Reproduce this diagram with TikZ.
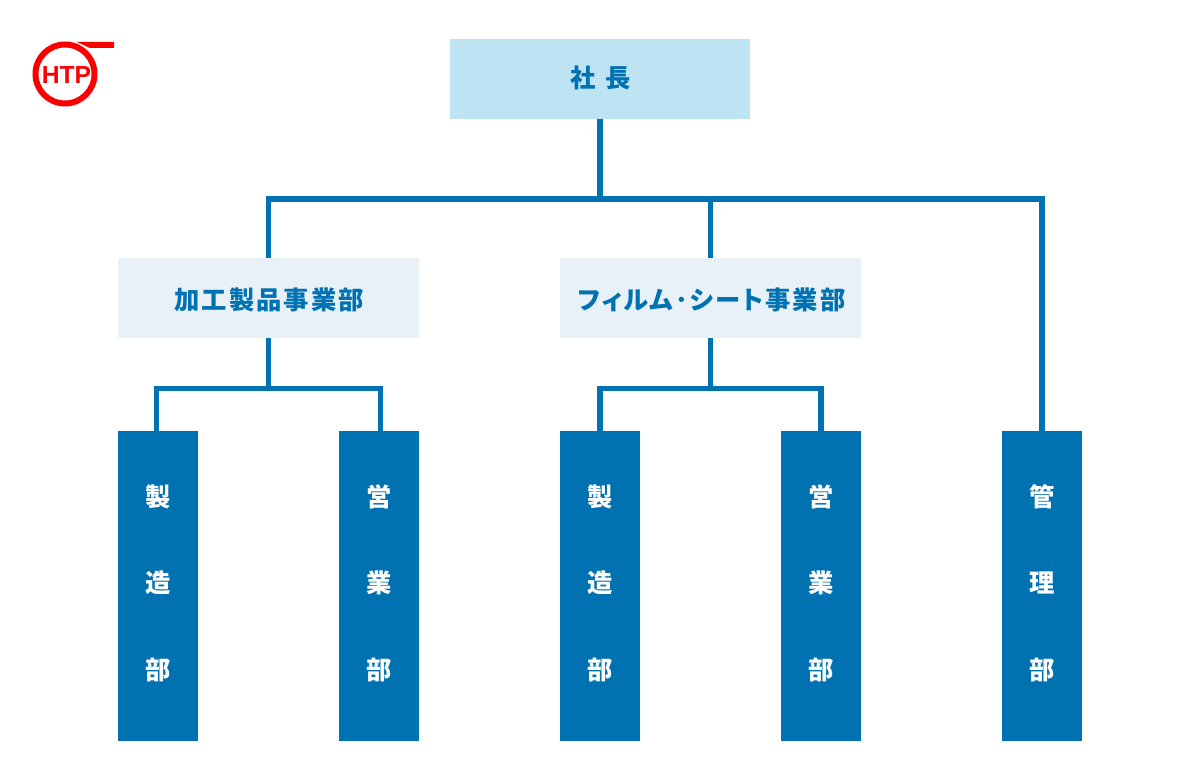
\documentclass[tikz,border=0pt]{standalone}
\usepackage{fontspec}
\newfontfamily\jpfont[LetterSpace=8,RawFeature=+palt]{Noto Sans CJK JP}
\newfontfamily\colfont{Noto Sans CJK JP}
\newfontfamily\logofont{Liberation Sans}
\definecolor{htpblue}{HTML}{0071B1}
\definecolor{bosscol}{HTML}{BEE4F4}
\definecolor{divcol}{HTML}{E8F1F7}
\definecolor{logored}{HTML}{FA0000}
\tikzset{
  boss/.style={fill=bosscol, text=htpblue, minimum width=225pt, minimum height=60pt, inner sep=0pt, text height=15pt, text depth=2.1pt, font=\jpfont\bfseries\fontsize{19pt}{21pt}\selectfont},
  division/.style={fill=divcol, text=htpblue, minimum width=225.75pt, minimum height=60pt, inner sep=0pt, text height=18.6pt, text depth=2pt, font=\jpfont\bfseries\fontsize{19pt}{21pt}\selectfont},
  dept/.style={fill=htpblue, text=white, minimum width=60pt, minimum height=232.5pt, inner sep=0pt, align=center, font=\colfont\bfseries\fontsize{19pt}{65pt}\selectfont},
  link/.style={draw=htpblue, line width=4.2pt, line join=miter},
  sublink/.style={draw=htpblue, line width=4pt, line join=miter},
}
\begin{document}
\begin{tikzpicture}[x=0.75pt, y=-0.75pt]
  \useasboundingbox (0,0) rectangle (1200,780);
  % boxes
  \node[boss] (president) at (600,79) {\hspace*{1pt}社\hspace{7pt}長};
  \node[division] (processed) at (268.5,298.2) {\hspace*{1pt}加工製品事業部};
  \node[division] (film) at (710.5,298.2) {\hspace*{1.5pt}フィルム･シート事業部};
  \node[dept] (mfgA) at (158,586) {製\\造\\部\\[-59pt]};
  \node[dept] (salesA) at (379,586) {営\\業\\部\\[-59pt]};
  \node[dept] (mfgB) at (600,586) {製\\造\\部\\[-59pt]};
  \node[dept] (salesB) at (821,586) {営\\業\\部\\[-59pt]};
  \node[dept] (admin) at (1042,586) {管\\理\\部\\[-59pt]};
  % branch points
  \coordinate (busTop) at (600,199);
  \coordinate (busA) at (268.5,388.5);
  \coordinate (busB) at (710.5,388.5);
  \coordinate (dropMfgA) at (156.7,431);
  \coordinate (dropSalesA) at (380.2,431);
  % links
  \draw[link] (president.south) -- (busTop);
  \draw[link] (processed.north) |- (busTop);
  \draw[link] (film.north) -- (film.north |- busTop);
  \draw[link] (busTop) -| (admin.north);
  \draw[link] (processed.south) -- (busA);
  \draw[link] (film.south) -- (busB);
  \draw[sublink] (dropMfgA) |- (busA) -| (dropSalesA);
  \draw[sublink] (mfgB.north) |- (busB) -| (salesB.north);
  % logo
  \draw[logored, line width=4.5pt] (65,74) circle (29.5);
  \fill[logored] (77,42) -- (114,42) -- (114,48) -- (90,48) -- cycle;
  \node[text=logored, inner sep=0pt, font=\logofont\bfseries\fontsize{18.5pt}{20pt}\selectfont] (logotext) at (66.5,75) {HTP};
\end{tikzpicture}
\end{document}
